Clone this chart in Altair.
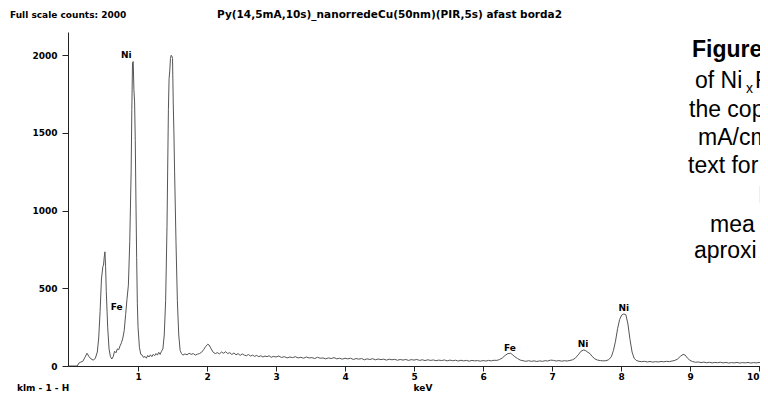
import altair as alt
import pandas as pd

# ---- spectrum ----
kev = [0.00, 0.12, 0.14, 0.17, 0.20, 0.23, 0.26, 0.29, 0.32, 0.35, 0.38, 0.41, 0.43, 0.45, 0.47, 0.49,
       0.50, 0.51, 0.52, 0.53, 0.54, 0.56, 0.58, 0.60, 0.62, 0.64, 0.66, 0.68, 0.70, 0.72, 0.74, 0.76,
       0.78, 0.80, 0.82, 0.84, 0.86, 0.88, 0.90, 0.91, 0.92, 0.93, 0.94, 0.95, 0.96, 0.97, 0.98, 0.99,
       1.00, 1.02, 1.04, 1.06, 1.08, 1.10, 1.12, 1.14, 1.16, 1.18, 1.20, 1.22, 1.24, 1.26, 1.28, 1.30,
       1.32, 1.34, 1.36, 1.38, 1.40, 1.42, 1.44, 1.45, 1.46, 1.47, 1.48, 1.49, 1.50, 1.51, 1.52, 1.53,
       1.55, 1.57, 1.59, 1.61, 1.63, 1.65, 1.68, 1.71, 1.74, 1.77, 1.80, 1.83, 1.86, 1.89, 1.92, 1.95,
       1.98, 2.01, 2.03, 2.06, 2.09, 2.12, 2.15, 2.18, 2.21, 2.24, 2.27, 2.30, 2.33, 2.36, 2.39, 2.42,
       2.45, 2.48, 2.51, 2.54, 2.57, 2.60, 2.63, 2.66, 2.69, 2.72, 2.75, 2.78, 2.81, 2.84, 2.87, 2.90,
       2.93, 2.96, 3.00, 3.04, 3.08, 3.12, 3.16, 3.20, 3.24, 3.28, 3.32, 3.36, 3.40, 3.44, 3.48, 3.52,
       3.56, 3.60, 3.64, 3.68, 3.72, 3.76, 3.80, 3.84, 3.88, 3.92, 3.96, 4.00, 4.04, 4.08, 4.12, 4.16,
       4.20, 4.24, 4.28, 4.32, 4.36, 4.40, 4.44, 4.48, 4.52, 4.56, 4.60, 4.64, 4.68, 4.72, 4.76, 4.80,
       4.84, 4.88, 4.92, 4.96, 5.00, 5.04, 5.08, 5.12, 5.16, 5.20, 5.24, 5.28, 5.32, 5.36, 5.40, 5.44,
       5.48, 5.52, 5.56, 5.60, 5.64, 5.68, 5.72, 5.76, 5.80, 5.84, 5.88, 5.92, 5.96, 6.00, 6.04, 6.08,
       6.12, 6.16, 6.20, 6.24, 6.28, 6.32, 6.36, 6.40, 6.43, 6.46, 6.50, 6.54, 6.58, 6.62, 6.66, 6.70,
       6.74, 6.78, 6.82, 6.86, 6.90, 6.94, 6.98, 7.02, 7.06, 7.10, 7.14, 7.18, 7.22, 7.26, 7.30, 7.34,
       7.38, 7.42, 7.46, 7.49, 7.52, 7.55, 7.58, 7.62, 7.66, 7.70, 7.74, 7.78, 7.82, 7.86, 7.89, 7.92,
       7.95, 7.98, 8.01, 8.04, 8.07, 8.10, 8.13, 8.16, 8.19, 8.22, 8.26, 8.30, 8.34, 8.38, 8.42, 8.46,
       8.50, 8.54, 8.58, 8.62, 8.66, 8.70, 8.74, 8.78, 8.82, 8.86, 8.90, 8.93, 8.96, 9.00, 9.04, 9.08,
       9.12, 9.16, 9.20, 9.24, 9.28, 9.32, 9.36, 9.40, 9.44, 9.48, 9.52, 9.56, 9.60, 9.64, 9.68, 9.72,
       9.76, 9.80, 9.84, 9.88, 9.92, 9.96, 10.00, 10.04, 10.08, 10.13]
counts = [0, 0, 18, 25, 30, 55, 82, 60, 45, 38, 48, 90, 180, 350, 560, 640,
          650, 700, 735, 640, 480, 250, 110, 60, 45, 60, 95, 85, 110, 105, 130, 150,
          180, 230, 330, 430, 520, 800, 1250, 1650, 1950, 1960, 1780, 1700, 1450, 1050, 700, 400,
          250, 120, 75, 70, 55, 62, 50, 68, 58, 72, 60, 75, 66, 80, 70, 88,
          75, 95, 110, 200, 420, 900, 1650, 1850, 1900, 1980, 2000, 1995, 1980, 1700, 1500, 1250,
          800, 420, 200, 100, 80, 70, 78, 72, 82, 75, 80, 70, 76, 80, 88, 105,
          125, 140, 135, 110, 88, 80, 86, 78, 90, 82, 92, 80, 86, 74, 84, 72,
          80, 68, 78, 70, 66, 74, 64, 70, 62, 68, 60, 66, 58, 64, 60, 66,
          56, 62, 58, 64, 55, 60, 52, 58, 54, 60, 52, 56, 50, 58, 52, 54,
          48, 56, 50, 52, 46, 52, 48, 54, 46, 50, 44, 50, 46, 50, 42, 48,
          44, 48, 40, 46, 42, 47, 40, 45, 41, 44, 38, 44, 40, 43, 37, 42,
          38, 42, 36, 41, 38, 42, 36, 40, 35, 40, 36, 39, 34, 38, 35, 39,
          33, 38, 34, 37, 32, 37, 33, 36, 31, 36, 33, 35, 31, 35, 32, 36,
          33, 37, 36, 42, 52, 68, 80, 82, 72, 60, 48, 38, 34, 30, 34, 30,
          33, 29, 33, 30, 34, 32, 38, 36, 32, 35, 31, 34, 32, 36, 40, 52,
          72, 95, 103, 98, 88, 80, 62, 46, 38, 35, 33, 34, 40, 60, 100, 160,
          240, 300, 328, 335, 330, 270, 170, 90, 50, 36, 30, 28, 30, 26, 29, 25,
          28, 26, 29, 27, 30, 28, 32, 36, 45, 62, 75, 70, 52, 36, 28, 24,
          26, 22, 25, 21, 24, 20, 23, 21, 24, 20, 23, 19, 22, 20, 23, 19,
          22, 20, 23, 19, 22, 20, 23, 19, 22, 20]

peak_labels = ["Ni", "Fe", "Fe", "Ni", "Ni"]
peak_kev = [0.83, 0.69, 6.39, 7.45, 8.04]
peak_label_counts = [2000, 382, 116, 142, 373]

y_ticks = [0, 500, 1000, 1500, 2000]
x_ticks = [1, 2, 3, 4, 5, 6, 7, 8, 9, 10]

header_left = "Full scale counts: 2000"
header_title = "Py(14,5mA,10s)_nanorredeCu(50nm)(PIR,5s) afast borda2"
footer_left = "klm - 1 - H"
x_title = "keV"
caption_lines = ["of Ni", "the copper", "mA/cm²", "text for", "I", "mea", "aproxi"]

spec = pd.DataFrame({"kev": kev, "counts": counts})
labels = pd.DataFrame({"label": peak_labels, "kev": peak_kev, "counts": peak_label_counts})

W, H = 692, 334
SMALL = "DejaVu Sans"
BIG = "Liberation Sans"

xscale = alt.Scale(domain=[-0.015, 10.014], nice=False, zero=False)
yscale = alt.Scale(domain=[0, 2150], nice=False, zero=False)

line = alt.Chart(spec).mark_line(color="#555555", strokeWidth=1, clip=True).encode(
    x=alt.X("kev:Q", scale=xscale, title=None,
            axis=alt.Axis(values=x_ticks, format="d", grid=False, tickSize=5, labelPadding=1,
                          labelFlush=2,
                          labelFont=SMALL, labelFontWeight="bold", labelFontSize=9,
                          labelColor="black", domainColor="#222", tickColor="#222")),
    y=alt.Y("counts:Q", scale=yscale, title=None,
            axis=alt.Axis(values=y_ticks, format="d", grid=False, tickSize=6, labelPadding=5,
                          labelFont=SMALL, labelFontWeight="bold", labelFontSize=9,
                          labelColor="black", domainColor="#222", tickColor="#222")),
)

peaks = alt.Chart(labels).mark_text(font=SMALL, fontWeight="bold", fontSize=9,
                                    baseline="middle", color="black").encode(
    x=alt.X("kev:Q", scale=xscale), y=alt.Y("counts:Q", scale=yscale), text="label:N")

one = pd.DataFrame({"a": [0]})


def txt(s, x, y, size=9, font=SMALL, weight="bold", align="left", baseline="alphabetic"):
    return alt.Chart(one).mark_text(text=s, font=font, fontSize=size, fontWeight=weight,
                                    align=align, baseline=baseline, color="black").encode(
        x=alt.value(x), y=alt.value(y))


CX = -8  # caption shift so the visible part matches the cropped reference
texts = [
    txt(header_left, -58, -14),
    txt(header_title, 149, -14, size=10.5),
    txt(footer_left, -51, 359),
    txt(x_title, 355, 359, align="center"),
    txt("Figure", 632 + CX, 25, size=23, font=BIG, weight="bold"),
    txt(caption_lines[0], 635 + CX, 56, size=23, font=BIG, weight="normal"),
    txt("x", 686 + CX, 61, size=14, font=BIG, weight="normal"),
    txt("Fe", 695 + CX, 56, size=23, font=BIG, weight="normal"),
    txt(caption_lines[1], 629 + CX, 85, size=23, font=BIG, weight="normal"),
    txt(caption_lines[2], 638 + CX, 113, size=23, font=BIG, weight="normal"),
    txt(caption_lines[3], 628 + CX, 141, size=23, font=BIG, weight="normal"),
    txt(caption_lines[4], 690, 171, size=23, font=BIG, weight="normal"),
    txt(caption_lines[5], 650 + CX, 200, size=23, font=BIG, weight="normal"),
    txt(caption_lines[6], 634 + CX, 226, size=23, font=BIG, weight="normal"),
]

chart = alt.layer(line, peaks, *texts).properties(
    width=W, height=H,
    autosize=alt.AutoSizeParams(type="none"),
    padding={"left": 60, "top": 24, "right": 0, "bottom": 28},
    background="white",
).configure_view(stroke=None)

chart.save("out.html", embed_options={"renderer": "svg", "actions": False})
